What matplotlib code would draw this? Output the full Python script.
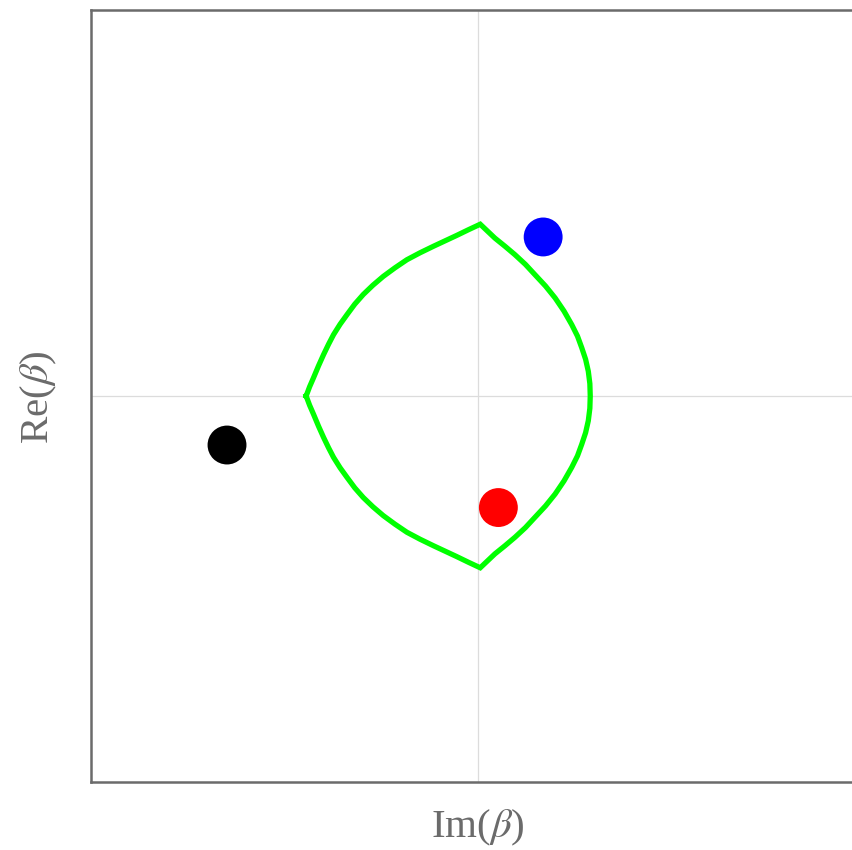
import matplotlib
matplotlib.use("Agg")
import matplotlib.pyplot as plt

# Boundary curve (Im, Re), closed loop
curve_x = [-0.446, -0.437, -0.427, -0.414, -0.401, -0.388, -0.375, -0.358, -0.340, -0.320,
           -0.298, -0.273, -0.246, -0.216, -0.185, -0.151, -0.116, -0.086, -0.056, -0.025,
           0.005, 0.024, 0.043, 0.069, 0.095, 0.122, 0.147, 0.174, 0.199, 0.222,
           0.242, 0.257, 0.268, 0.278, 0.285, 0.289, 0.290,
           0.289, 0.285, 0.278, 0.268, 0.257, 0.242, 0.222, 0.199, 0.174, 0.147,
           0.122, 0.095, 0.069, 0.043, 0.024, 0.005,
           -0.025, -0.056, -0.086, -0.116, -0.151, -0.185, -0.216, -0.246, -0.273, -0.298,
           -0.320, -0.340, -0.358, -0.375, -0.388, -0.401, -0.414, -0.427, -0.437, -0.446]
curve_y = [0.000, 0.024, 0.047, 0.078, 0.107, 0.134, 0.159, 0.186, 0.211, 0.238,
           0.263, 0.287, 0.310, 0.332, 0.353, 0.371, 0.388, 0.402, 0.416, 0.431,
           0.445, 0.427, 0.409, 0.388, 0.366, 0.341, 0.314, 0.285, 0.254, 0.220,
           0.185, 0.155, 0.125, 0.095, 0.064, 0.032, 0.000,
           -0.032, -0.064, -0.095, -0.125, -0.155, -0.185, -0.220, -0.254, -0.285, -0.314,
           -0.341, -0.366, -0.388, -0.409, -0.427, -0.445,
           -0.431, -0.416, -0.402, -0.388, -0.371, -0.353, -0.332, -0.310, -0.287, -0.263,
           -0.238, -0.211, -0.186, -0.159, -0.134, -0.107, -0.078, -0.047, -0.024, 0.000]

# Points
pts_x = [-0.651, 0.168, 0.052]
pts_y = [-0.127, 0.412, -0.289]
pts_c = ["#000000", "#0000ff", "#ff0000"]

plt.rcParams["mathtext.fontset"] = "stix"

W, H = 853, 850
fig = plt.figure(figsize=(W / 100, H / 100), dpi=100)
left, top, bottom = 91, 10, 782
half = (bottom - top) / 2
cx = 478.3
ax = fig.add_axes([left / W, (H - bottom) / H, 2 * (cx - left) / W, (bottom - top) / H])
ax.set_xlim(-(cx - left) / half, (cx - left) / half)
ax.set_ylim(-1, 1)

ax.axhline(0, color="#dcdcdc", lw=0.9, zorder=1)
ax.axvline(0, color="#dcdcdc", lw=0.9, zorder=1)

ax.plot(curve_x, curve_y, color="#00ff00", lw=3.8, solid_joinstyle="miter", zorder=2)
ax.scatter(pts_x, pts_y, s=28 ** 2, c=pts_c, edgecolors="none", zorder=3)

ax.set_xticks([])
ax.set_yticks([])
for s in ["top", "left", "bottom", "right"]:
    ax.spines[s].set_color("#6b6b6b")
    ax.spines[s].set_linewidth(1.8)

lab = dict(color="#6b6b6b", fontsize=29.5, family="Liberation Serif", ha="center", va="center")
fig.text(478 / W, 1 - 828 / H, r"Im($\beta$)", **lab)
fig.text(39 / W, 1 - 397 / H, r"Re($\beta$)", rotation=90, **lab)

fig.savefig("out.png", dpi=100)
